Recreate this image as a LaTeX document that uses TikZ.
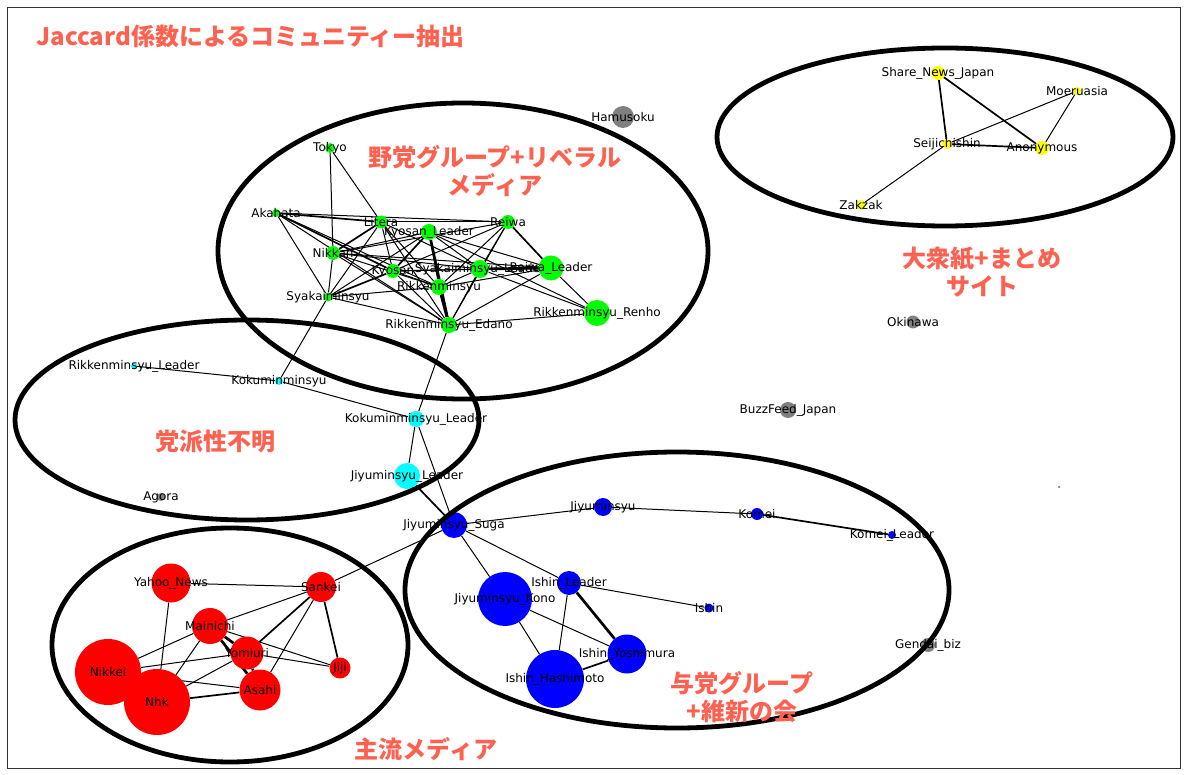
\documentclass[tikz,border=0pt]{standalone}
\usepackage{fontspec}
\setmainfont{DejaVu Sans}
\newfontfamily\jpfont{Noto Sans CJK JP}
\usetikzlibrary{backgrounds}
\definecolor{GroupRed}{HTML}{FF6150}
\definecolor{NodeGreen}{HTML}{00FF00}
\definecolor{NodeCyan}{HTML}{00FFFF}
\definecolor{NodeBlue}{HTML}{0000FF}
\definecolor{NodeRed}{HTML}{FF0000}
\definecolor{NodeYellow}{HTML}{FFFF00}
\definecolor{NodeGray}{HTML}{808080}

\begin{document}
\begin{tikzpicture}[x=1pt,y=-1pt,
  media/.style={circle,inner sep=0pt,draw=none,minimum size=#1pt},
  lab/.style={inner sep=0pt,font=\fontsize{12}{14}\selectfont},
  grp/.style={text=GroupRed,align=center,font=\jpfont\bfseries\fontsize{24}{28}\selectfont},
  ring/.style={draw=black,line width=4.8pt},
  thinlink/.style={line width=1pt},
  midlink/.style={line width=1.7pt},
  thicklink/.style={line width=2.7pt}]
  \useasboundingbox (0,0) rectangle (1186,775);
  \draw[line width=0.8pt,black!80] (7,7) rectangle (1180,768);
  % opposition parties + liberal media
  \foreach \id/\px/\py/\d/\txt in {tokyo/330/148/10/Tokyo,akahata/276/213/8/Akahata,
    litera/381/222/13/Litera,kyoL/429/232/16/Kyosan\_Leader,reiwa/508/222/14/Reiwa,
    nikkan/333/253/14/Nikkan,kyosan/393/271/14/Kyosan,syaL/480/269/18/Syakaiminsyu\_Leader,
    reiwaL/551/268/25/Reiwa\_Leader,rikken/439/287/16/Rikkenminsyu,syakai/328/297/9/Syakaiminsyu,
    edano/449/325/16/Rikkenminsyu\_Edano,renho/597/313/26/Rikkenminsyu\_Renho}
    \node[media=\d,fill=NodeGreen,label={[lab]center:\txt}] (\id) at (\px,\py) {};
  % unknown party
  \foreach \id/\px/\py/\d/\txt in {rikkenL/134/366/6/Rikkenminsyu\_Leader,kokumin/279/381/8/Kokuminminsyu,
    kokuminL/416/419/16/Kokuminminsyu\_Leader,jiyuL/407/476/26/Jiyuminsyu\_Leader}
    \node[media=\d,fill=NodeCyan,label={[lab]center:\txt}] (\id) at (\px,\py) {};
  % ruling parties + ishin
  \foreach \id/\px/\py/\d/\txt in {suga/454/525/26/Jiyuminsyu\_Suga,jiyu/603/507/18/Jiyuminsyu,
    komei/757/514/12/Komei,komeiL/892/535/8/Komei\_Leader,ishinL/569/583/24/Ishin\_Leader,
    kono/505/599/54/Jiyuminsyu\_Kono,ishin/709/608/9/Ishin,yoshimura/627/654/39/Ishin\_Yoshimura,
    hashimoto/555/679/58/Ishin\_Hashimoto}
    \node[media=\d,fill=NodeBlue,label={[lab]center:\txt}] (\id) at (\px,\py) {};
  % mainstream media
  \foreach \id/\px/\py/\d/\txt in {yahoo/171/583/39/Yahoo\_News,sankei/321/587/30/Sankei,
    mainichi/210/626/36/Mainichi,yomiuri/247/653/33/Yomiuri,jiji/340/668/21/Jiji,
    nikkei/108/672/66/Nikkei,nhk/157/702/66/Nhk,asahi/260/690/41/Asahi}
    \node[media=\d,fill=NodeRed,label={[lab]center:\txt}] (\id) at (\px,\py) {};
  % tabloids + summary sites
  \foreach \id/\px/\py/\d/\txt in {snj/938/73/14/Share\_News\_Japan,moeru/1077/91/8/Moeruasia,
    seiji/947/144/10/Seijichishin,anon/1042/148/14/Anonymous,zakzak/861/205/10/Zakzak}
    \node[media=\d,fill=NodeYellow,label={[lab]center:\txt}] (\id) at (\px,\py) {};
  % isolated
  \foreach \id/\px/\py/\d/\txt in {hamusoku/623/117/22/Hamusoku,okinawa/913/322/13/Okinawa,
    buzzfeed/788/410/16/BuzzFeed\_Japan,agora/161/497/8/Agora,gendai/928/645/14/Gendai\_biz}
    \node[media=\d,fill=NodeGray,label={[lab]center:\txt}] (\id) at (\px,\py) {};
  \node[media=2.5,fill=NodeGray] (blank) at (1059,487) {};
  % links
  \begin{scope}[on background layer]
    \foreach \a/\b in {tokyo/nikkan,tokyo/litera,akahata/reiwa,akahata/rikken,akahata/syakai,
      akahata/edano,litera/reiwa,litera/kyosan,litera/rikken,litera/edano,litera/syaL,
      litera/syakai,kyoL/nikkan,kyoL/rikken,kyoL/syaL,kyoL/reiwaL,kyoL/renho,kyoL/syakai,
      reiwa/kyosan,reiwa/rikken,reiwa/edano,reiwa/syaL,reiwa/nikkan,nikkan/rikken,nikkan/syaL,
      nikkan/reiwaL,nikkan/edano,nikkan/syakai,kyosan/syaL,kyosan/rikken,kyosan/edano,
      kyosan/reiwaL,syaL/rikken,syaL/edano,syaL/renho,reiwaL/edano,reiwaL/renho,reiwaL/rikken,
      rikken/syakai,edano/renho,edano/syakai,edano/kokuminL,syakai/kokumin,rikkenL/kokumin,
      kokumin/kokuminL,kokuminL/jiyuL,kokuminL/suga,seiji/moeru,moeru/anon,seiji/zakzak,
      suga/jiyu,jiyu/komei,suga/kono,suga/ishinL,suga/sankei,ishinL/ishin,ishinL/hashimoto,
      kono/yoshimura,kono/hashimoto,yahoo/sankei,yahoo/nhk,sankei/mainichi,sankei/asahi,
      nikkei/mainichi,nikkei/yomiuri,nikkei/asahi,mainichi/jiji,yomiuri/jiji,nhk/mainichi,
      nhk/yomiuri}
      \draw[thinlink] (\a) -- (\b);
    \foreach \a/\b in {akahata/litera,akahata/kyosan,litera/nikkan,kyosan/syakai,reiwa/reiwaL,
      kyoL/kyosan,sankei/yomiuri,sankei/jiji,hashimoto/yoshimura,nhk/asahi,komei/komeiL,
      suga/jiyuL,snj/seiji,snj/anon,seiji/anon}
      \draw[midlink] (\a) -- (\b);
    \foreach \a/\b in {kyoL/edano,rikken/edano,syaL/reiwaL,ishinL/yoshimura,mainichi/yomiuri,
      mainichi/asahi,yomiuri/asahi}
      \draw[thicklink] (\a) -- (\b);
  \end{scope}
  % community rings
  \draw[ring] (463,251) ellipse (245 and 148);
  \draw[ring] (945,137) ellipse (228 and 89);
  \draw[ring] (247,420) ellipse (232 and 100);
  \draw[ring] (677,590) ellipse (272 and 138);
  \draw[ring] (230,645) ellipse (178 and 117);
  % titles
  \node[grp,anchor=west,font=\jpfont\bfseries\fontsize{24}{28}\selectfont] (title) at (33,36)
    {Jaccard係数によるコミュニティー抽出};
  \node[grp] (opposition) at (495,171) {野党グループ+リベラル\\メディア};
  \node[grp] (tabloid) at (982,272) {大衆紙+まとめ\\サイト};
  \node[grp] (unknown) at (215,441) {党派性不明};
  \node[grp] (ruling) at (742,697) {与党グループ\\+維新の会};
  \node[grp] (mainstream) at (426,749) {主流メディア};
\end{tikzpicture}
\end{document}
